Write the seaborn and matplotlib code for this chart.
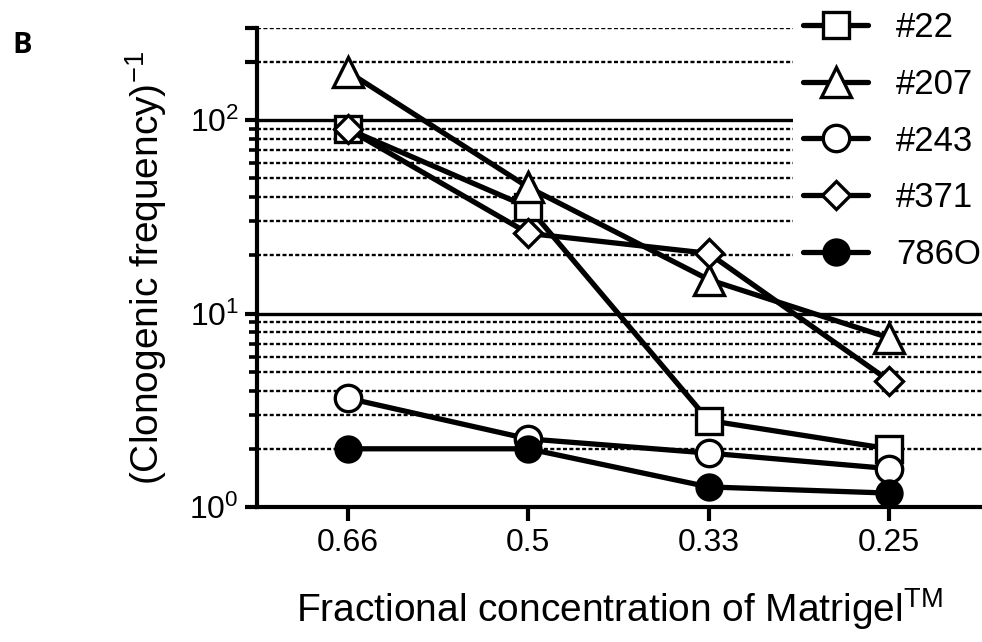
import numpy as np
import pandas as pd
import matplotlib
matplotlib.use("Agg")
import matplotlib.pyplot as plt
from matplotlib.ticker import FixedLocator, FixedFormatter, NullFormatter
import seaborn as sns

# ---------------- data ----------------
concentrations = ["0.66", "0.5", "0.33", "0.25"]
series_names = ["#22", "#207", "#243", "#371", "786O"]
vals_22 = [90, 35.5, 2.8, 2.0]
vals_207 = [178, 45, 15, 7.5]
vals_243 = [3.65, 2.25, 1.9, 1.58]
vals_371 = [90, 26, 20.5, 4.5]
vals_786O = [2.0, 2.0, 1.27, 1.18]
series_values = [vals_22, vals_207, vals_243, vals_371, vals_786O]
y_tick_values = [1, 10, 100]
y_tick_labels = [r"$10^0$", r"$10^1$", r"$10^2$"]
dotted_grid = [2, 3, 4, 5, 6, 7, 8, 9, 20, 30, 40, 50, 60, 70, 80, 90, 200, 300]
solid_grid = [10, 100]

markers = ["s", "^", "o", "D", "o"]
facecolors = ["white", "white", "white", "white", "black"]
msizes = [19, 21, 19, 14, 18]

sns.set_theme(style="white")
plt.rcParams["font.family"] = ["Liberation Sans", "DejaVu Sans"]
plt.rcParams["mathtext.fontset"] = "custom"
plt.rcParams["mathtext.rm"] = "Liberation Sans"
plt.rcParams["mathtext.it"] = "Liberation Sans:italic"
plt.rcParams["mathtext.bf"] = "Liberation Sans:bold"
plt.rcParams["mathtext.sf"] = "Liberation Sans"
plt.rcParams["text.color"] = "black"
plt.rcParams["axes.labelcolor"] = "black"
plt.rcParams["xtick.color"] = "black"
plt.rcParams["ytick.color"] = "black"

W, H = 982, 642
fig = plt.figure(figsize=(W / 100, H / 100), dpi=100)
ax = fig.add_axes([257 / W, 1 - 507 / H, (W - 257) / W, (507 - 28) / H])

rows = []
for name, vals in zip(series_names, series_values):
    for c, v in zip(concentrations, vals):
        rows.append({"conc": c, "value": v, "line": name})
df = pd.DataFrame(rows)

for name, m, fc, ms in zip(series_names, markers, facecolors, msizes):
    sub = df[df["line"] == name]
    sns.lineplot(data=sub, x="conc", y="value", ax=ax, color="black",
                 marker=m, markersize=ms, markerfacecolor=fc,
                 markeredgecolor="black", mew=2.4, linewidth=3.8,
                 label=name, sort=False, zorder=4, clip_on=False)

ax.set_yscale("log")
ax.set_ylim(1, 300)
ax.set_xlim(-0.505, 3.516)

for g in dotted_grid:
    ax.axhline(g, color="black", lw=1.7, ls=(0, (1.7, 1.0)), zorder=1)
for g in solid_grid:
    ax.axhline(g, color="black", lw=2.4, zorder=1)

ax.yaxis.set_major_locator(FixedLocator(y_tick_values + [200, 300]))
ax.yaxis.set_major_formatter(FixedFormatter(y_tick_labels + ["", ""]))
minor = [v * d for v in [1, 10] for d in range(2, 10)]
ax.yaxis.set_minor_locator(FixedLocator(minor))
ax.yaxis.set_minor_formatter(NullFormatter())

ax.set_xticks(range(len(concentrations)))
ax.set_xticklabels(concentrations)

for s in ["top", "right"]:
    ax.spines[s].set_visible(False)
for s in ["left", "bottom"]:
    ax.spines[s].set_linewidth(3.0)
    ax.spines[s].set_color("black")
    ax.spines[s].set_zorder(5)

ax.tick_params(axis="y", which="major", direction="out", length=9, width=3,
               labelsize=23, pad=4, left=True, color="black", labelcolor="black")
ax.tick_params(axis="y", which="minor", direction="out", length=6, width=2.6,
               left=True, color="black")
ax.tick_params(axis="x", which="major", direction="out", length=10, width=3,
               labelsize=23, pad=5, bottom=True, color="black", labelcolor="black")

ax.set_ylabel(r"(Clonogenic frequency)$^{-1}$", fontsize=28, color="black")
ax.yaxis.set_label_coords(-0.122, 0.5)
ax.set_xlabel(r"Fractional concentration of Matrigel$^{\mathrm{TM}}$", fontsize=28,
              color="black")
ax.xaxis.set_label_coords(0.5, -0.165)

handles, labels = ax.get_legend_handles_labels()
leg = fig.legend(handles, labels, loc="upper left",
                 bbox_to_anchor=(793 / W, 1 - 1.0 / H), borderaxespad=0,
                 fontsize=25, frameon=True, facecolor="white", edgecolor="none",
                 fancybox=False, framealpha=1, borderpad=0.3, labelspacing=0.68,
                 handlelength=1.86, handletextpad=0.8, labelcolor="black")
leg.set_zorder(10)

fig.text(12 / W, 1 - 53 / H, "B", fontsize=21, fontweight="bold", color="black",
         family=["Open Sans", "DejaVu Sans"], ha="left", va="baseline")

fig.savefig("out.png", dpi=100)
